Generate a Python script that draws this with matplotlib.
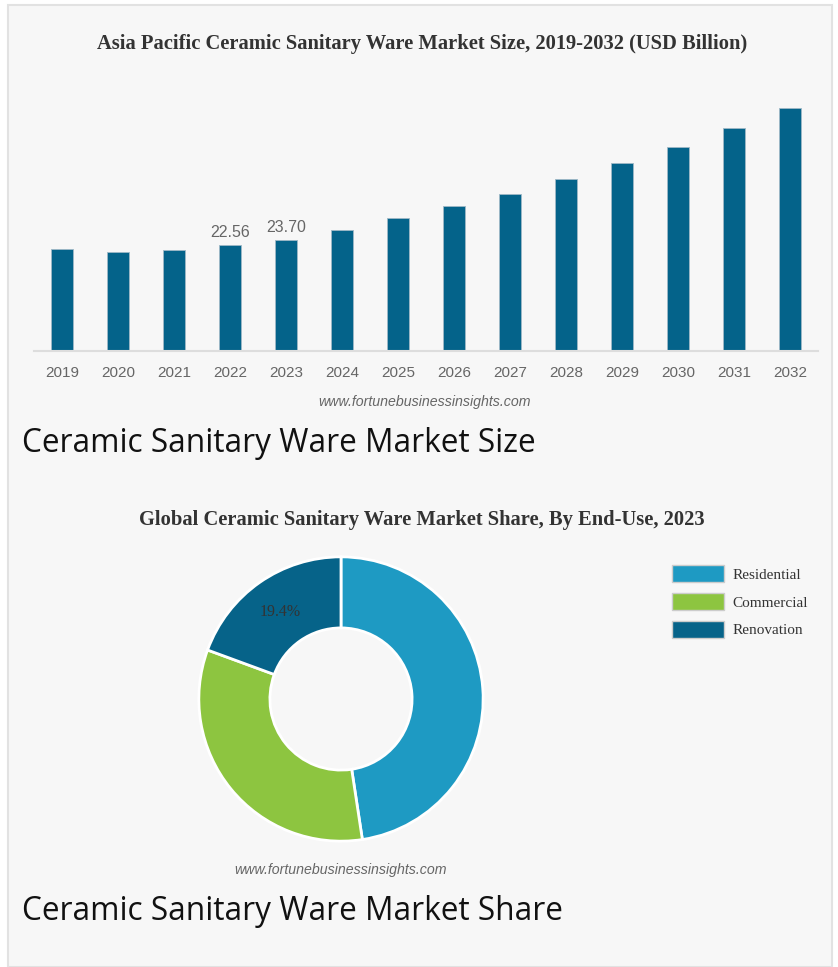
import matplotlib
matplotlib.use('Agg')
import matplotlib.pyplot as plt
from matplotlib.patches import Rectangle, Patch

# data
years = ['2019', '2020', '2021', '2022', '2023', '2024', '2025',
         '2026', '2027', '2028', '2029', '2030', '2031', '2032']
market_size = [21.6, 21.1, 21.4, 22.56, 23.70, 25.8, 28.2,
               30.8, 33.5, 36.6, 39.9, 43.5, 47.4, 51.8]
labelled = ['2022', '2023']

segments = ['Residential', 'Commercial', 'Renovation']
share = [47.6, 33.0, 19.4]
seg_colors = ['#1e9ac3', '#8dc540', '#066389']

W, H = 838, 967
fig = plt.figure(figsize=(W / 100, H / 100), dpi=100)
fig.patch.set_facecolor('white')

def px_axes(left, top, width, height):
    return fig.add_axes([left / W, (H - top - height) / H, width / W, height / H])

# page panel
fig.patches.append(Rectangle((8 / W, 0), 824 / W, 962 / H, transform=fig.transFigure,
                             facecolor='#f7f7f7', edgecolor='#e2e2e2', lw=1.5, zorder=-5))

# --- bar chart
bar_color = '#04638a'
ax = px_axes(34, 101, 784, 250)
ax.set_facecolor('none')
x = range(len(years))
bars = ax.bar(x, market_size, width=0.41, color=bar_color,
              edgecolor='#9fb8c6', linewidth=0.6)
for b, yr, v in zip(bars, years, market_size):
    if yr in labelled:
        ax.text(b.get_x() + b.get_width() / 2, v + 1.0, f'{v:.2f}', ha='center',
                va='bottom', fontsize=11.5, color='#666666', family='Liberation Sans')
ax.set_xlim(-0.5, len(years) - 0.5)
ax.set_ylim(0, 250 / 4.70)
ax.set_xticks(list(x))
ax.set_xticklabels(years, fontsize=11, color='#666666', family='Liberation Sans')
ax.tick_params(axis='x', length=0, pad=11)
ax.set_yticks([])
for s in ['top', 'left', 'right']:
    ax.spines[s].set_visible(False)
ax.spines['bottom'].set_color('#dddddd')
ax.spines['bottom'].set_linewidth(1.5)

fig.text(422 / W, 1 - 44 / H,
         'Asia Pacific Ceramic Sanitary Ware Market Size, 2019-2032 (USD Billion)',
         ha='center', va='center', fontsize=14.8, fontweight='bold',
         family='Liberation Serif', color='#333333')
fig.text(425 / W, 1 - 402 / H, 'www.fortunebusinessinsights.com', ha='center',
         va='center', fontsize=10.2, style='italic', color='#666666', family='Liberation Sans')
fig.text(22 / W, 1 - 444 / H, 'Ceramic Sanitary Ware Market Size', ha='left',
         va='center', fontsize=22.8, family='Open Sans', color='#111111')

# --- donut
fig.text(422 / W, 1 - 520 / H,
         'Global Ceramic Sanitary Ware Market Share, By End-Use, 2023',
         ha='center', va='center', fontsize=14.8, fontweight='bold',
         family='Liberation Serif', color='#333333')

ax2 = px_axes(196, 554, 290, 290)
wedges, _, autotexts = ax2.pie(share, colors=seg_colors, startangle=90, counterclock=False,
                               radius=1, autopct='%.1f%%', pctdistance=0.75,
                               wedgeprops=dict(width=0.5, edgecolor='white', linewidth=2),
                               textprops=dict(fontsize=11.5, color='#333333',
                                              family='Liberation Serif'))
for t, name in zip(autotexts, segments):
    if name != 'Renovation':
        t.set_text('')
ax2.set_xlim(-1.02, 1.02)
ax2.set_ylim(-1.02, 1.02)
ax2.set_aspect('equal')

handles = [Patch(facecolor=c, edgecolor='#cccccc', linewidth=1) for c in seg_colors]
fig.legend(handles, segments, loc='upper left', bbox_to_anchor=(672 / W, 1 - 565 / H),
           frameon=False, borderpad=0, borderaxespad=0,
           handlelength=3.4, handleheight=1.33, handletextpad=0.55, labelspacing=0.72,
           prop=dict(family='Liberation Serif', size=11), labelcolor='#333333')

fig.text(341 / W, 1 - 870 / H, 'www.fortunebusinessinsights.com', ha='center',
         va='center', fontsize=10.2, style='italic', color='#666666', family='Liberation Sans')
fig.text(22 / W, 1 - 912 / H, 'Ceramic Sanitary Ware Market Share', ha='left',
         va='center', fontsize=22.8, family='Open Sans', color='#111111')

fig.savefig('out.png', dpi=100, facecolor=fig.get_facecolor())
